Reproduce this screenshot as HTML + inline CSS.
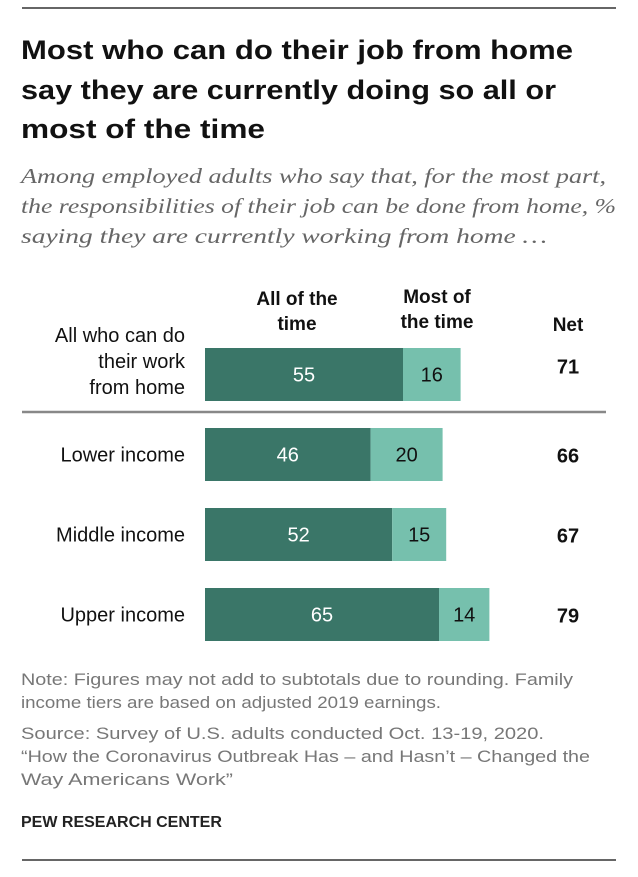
<!DOCTYPE html>
<html><head><meta charset="utf-8"><style>
body{margin:0;background:#fff;}
svg text{font-family:"Liberation Sans",sans-serif;}
</style></head><body>
<svg width="638" height="872" xmlns="http://www.w3.org/2000/svg">
<rect width="638" height="872" fill="#fff"/>
<line x1="22" y1="8" x2="616" y2="8" stroke="#333" stroke-width="1.5"/>
<g font-size="27" font-weight="bold" fill="#111" lengthAdjust="spacingAndGlyphs">
<text x="21" y="59" textLength="552" lengthAdjust="spacingAndGlyphs">Most who can do their job from home</text>
<text x="21" y="99" textLength="535" lengthAdjust="spacingAndGlyphs">say they are currently doing so all or</text>
<text x="21" y="138" textLength="244" lengthAdjust="spacingAndGlyphs">most of the time</text>
</g>
<g font-style="italic" font-size="21" fill="#666">
<text x="21" y="183" textLength="585" lengthAdjust="spacingAndGlyphs" style="font-family:'Liberation Serif',serif">Among employed adults who say that, for the most part,</text>
<text x="21" y="213" textLength="595" lengthAdjust="spacingAndGlyphs" style="font-family:'Liberation Serif',serif">the responsibilities of their job can be done from home, %</text>
<text x="21" y="243" textLength="526" lengthAdjust="spacingAndGlyphs" style="font-family:'Liberation Serif',serif">saying they are currently working from home …</text>
</g>
<g font-size="19" font-weight="bold" fill="#111" text-anchor="middle">
<text x="297" y="305"><tspan x="297">All of the</tspan><tspan x="297" dy="25">time</tspan></text>
<text x="437" y="303"><tspan x="437">Most of</tspan><tspan x="437" dy="25">the time</tspan></text>
<text x="568" y="331">Net</text>
</g>
<line x1="22" y1="412" x2="606" y2="412" stroke="#888" stroke-width="2.5"/>
<g id="bars"></g>
<g font-size="17" fill="#777">
<text x="21" y="685" textLength="552" lengthAdjust="spacingAndGlyphs">Note: Figures may not add to subtotals due to rounding. Family</text>
<text x="21" y="708" textLength="420" lengthAdjust="spacingAndGlyphs">income tiers are based on adjusted 2019 earnings.</text>
<text x="21" y="739" textLength="523" lengthAdjust="spacingAndGlyphs">Source: Survey of U.S. adults conducted Oct. 13-19, 2020.</text>
<text x="21" y="762" textLength="569" lengthAdjust="spacingAndGlyphs">“How the Coronavirus Outbreak Has – and Hasn’t – Changed the</text>
<text x="21" y="785" textLength="212" lengthAdjust="spacingAndGlyphs">Way Americans Work”</text>
</g>
<text x="21" y="827" font-size="16" font-weight="bold" fill="#222">PEW RESEARCH CENTER</text>
<line x1="22" y1="860" x2="616" y2="860" stroke="#333" stroke-width="1.5"/>
</svg>
<script>
const categories=[["All who can do","their work","from home"],["Lower income"],["Middle income"],["Upper income"]];
const allTime=[55,46,52,65];
const mostTime=[16,20,15,14];
const netVals=[71,66,67,79];
const x0=205,k=3.6,bh=53;
const rowTop=[348,428,508,588];
const g=document.getElementById('bars');
const NS='http://www.w3.org/2000/svg';
function el(t,a,txt){const e=document.createElementNS(NS,t);for(const n in a)e.setAttribute(n,a[n]);if(txt!=null)e.textContent=txt;g.appendChild(e);return e;}
function X(v){return x0+v*k;}
categories.forEach((c,i)=>{
 const y=rowTop[i],cy=y+bh/2;
 const a=el('rect',{x:X(0),y:y,width:X(allTime[i])-X(0),height:bh,fill:'#3a7668'});
 
 
 const b=el('rect',{x:X(allTime[i]),y:y,width:X(allTime[i]+mostTime[i])-X(allTime[i]),height:bh,fill:'#76c0ad'});
 
 
 const t1=el('text',{x:(X(0)+X(allTime[i]))/2,y:cy+7,'font-size':20,fill:'#fff','text-anchor':'middle'},allTime[i]);
 
 
 const t2=el('text',{x:(X(allTime[i])+X(allTime[i]+mostTime[i]))/2,y:cy+7,'font-size':20,fill:'#111','text-anchor':'middle'},mostTime[i]);
 
 
 const n=el('text',{x:568,y:cy+(i==0?-1:8),'font-size':20,'font-weight':'bold',fill:'#111','text-anchor':'middle'},netVals[i]);
 
 
 c.forEach((line,j)=>{
  const l=el('text',{x:185,y:(c.length>1?y-6+j*26:cy+7),'font-size':20,fill:'#111','text-anchor':'end'},line);
  
  
 });
});
</script>
</body></html>
